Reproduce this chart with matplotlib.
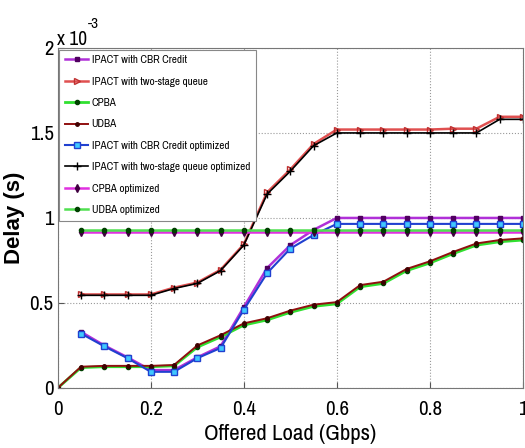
import numpy as np
import matplotlib
matplotlib.use('Agg')
import matplotlib.pyplot as plt
from matplotlib import font_manager

# look for a condensed sans (the original is a squeezed MATLAB export)
narrow = None
for f in font_manager.fontManager.ttflist:
    if 'Narrow' in f.name or 'Condensed' in f.name:
        narrow = f.name
        break
if narrow is None:
    for f in font_manager.fontManager.ttflist:
        if f.name == 'DejaVu Sans' and f.stretch == 'condensed':
            narrow = 'DejaVu Sans'
            break
stretch = 'condensed'
if narrow is None:
    narrow = 'Liberation Sans'
    stretch = 'normal'
plt.rcParams['font.family'] = [narrow, 'DejaVu Sans']
plt.rcParams['font.stretch'] = stretch

# data (delay in units of 1e-3 s)
load = [0.0, 0.05, 0.1, 0.15, 0.2, 0.25, 0.3, 0.35, 0.4, 0.45, 0.5,
        0.55, 0.6, 0.65, 0.7, 0.75, 0.8, 0.85, 0.9, 0.95, 1.0]
load_no0 = load[1:]

ipact_cbr = [0.33, 0.25, 0.18, 0.105, 0.105, 0.18, 0.245, 0.475, 0.705, 0.84,
             0.93, 1.0, 1.0, 1.0, 1.0, 1.0, 1.0, 1.0, 1.0, 1.0]
ipact_two = [0.55, 0.55, 0.55, 0.55, 0.59, 0.62, 0.695, 0.845, 1.15, 1.285,
             1.435, 1.52, 1.52, 1.52, 1.52, 1.52, 1.525, 1.525, 1.595, 1.595]
cpba = [0.0, 0.12, 0.125, 0.125, 0.125, 0.13, 0.24, 0.30, 0.37, 0.40, 0.445,
        0.48, 0.495, 0.595, 0.615, 0.69, 0.735, 0.79, 0.84, 0.86, 0.87]
udba = [0.0, 0.125, 0.13, 0.13, 0.13, 0.135, 0.25, 0.31, 0.38, 0.41, 0.455,
        0.49, 0.505, 0.605, 0.625, 0.70, 0.745, 0.80, 0.85, 0.87, 0.88]
ipact_cbr_opt = [0.32, 0.245, 0.175, 0.095, 0.095, 0.175, 0.235, 0.46, 0.675, 0.82,
                 0.90, 0.965, 0.965, 0.965, 0.965, 0.965, 0.965, 0.965, 0.965, 0.965]
ipact_two_opt = [0.545, 0.545, 0.545, 0.545, 0.585, 0.615, 0.69, 0.84, 1.14, 1.275,
                 1.425, 1.50, 1.50, 1.50, 1.50, 1.50, 1.50, 1.50, 1.58, 1.58]
cpba_opt = [0.92] * 20
udba_opt = [0.93] * 20

fig = plt.figure(figsize=(5.25, 4.48), dpi=100)
ax = fig.add_axes([0.110, 0.134, 0.886, 0.759])

ax.plot(load_no0, ipact_cbr, color='#b030d8', lw=1.8, marker='s', ms=3.5,
        mfc='#500060', mec='#500060', label='IPACT with CBR Credit')
ax.plot(load_no0, ipact_two, color='#e05050', lw=1.8, marker='>', ms=5,
        mfc='none', mec='#c03030', label='IPACT with two-stage queue')
ax.plot(load, cpba, color='#30e030', lw=2.0, marker='.', ms=6,
        mfc='#004000', mec='#004000', label='CPBA')
ax.plot(load, udba, color='#901010', lw=1.4, marker='.', ms=5,
        mfc='#400000', mec='#400000', label='UDBA')
ax.plot(load_no0, ipact_cbr_opt, color='#2040d0', lw=1.5, marker='s', ms=4,
        mfc='#40c8ff', mec='#2040d0', label='IPACT with CBR Credit optimized')
ax.plot(load_no0, ipact_two_opt, color='black', lw=1.2, marker='+', ms=6,
        label='IPACT with two-stage queue optimized')
ax.plot(load_no0, cpba_opt, color='#e030e0', lw=1.8, marker='d', ms=4,
        mfc='#400040', mec='#400040', label='CPBA optimized')
ax.plot(load_no0, udba_opt, color='#50e050', lw=1.8, marker='.', ms=6,
        mfc='#004000', mec='#004000', label='UDBA optimized')

ax.set_xlim(0, 1)
ax.set_ylim(0, 2)
ax.set_xticks([0, 0.2, 0.4, 0.6, 0.8, 1])
ax.set_xticklabels(['0', '0.2', '0.4', '0.6', '0.8', '1'])
ax.set_yticks([0, 0.5, 1, 1.5, 2])
ax.set_yticklabels(['0', '0.5', '1', '1.5', '2'])
ax.tick_params(direction='in', labelsize=15, length=4, color='#555555')
ax.tick_params(axis='x', pad=9)
ax.tick_params(axis='y', pad=3)
ax.grid(True, ls=':', color='#999999', lw=0.8)
for s in ax.spines.values():
    s.set_color('#777777')

ax.set_xlabel('Offered Load (Gbps)', fontsize=16.5, labelpad=3)
ax.set_ylabel('Delay (s)', fontsize=16, family=['Liberation Sans', 'DejaVu Sans'],
              fontweight='bold', fontstretch='normal', labelpad=3)

fig.text(0.108, 0.900, 'x 10', fontsize=14)
fig.text(0.168, 0.937, '-3', fontsize=11)

leg = ax.legend(loc='upper left', fontsize=8, handlelength=2.1, labelspacing=1.03,
                borderaxespad=0.15, fancybox=False, framealpha=1, edgecolor='#888888',
                borderpad=0.5, handletextpad=0.3)
leg.get_frame().set_linewidth(0.8)

fig.savefig('out.png', dpi=100)
